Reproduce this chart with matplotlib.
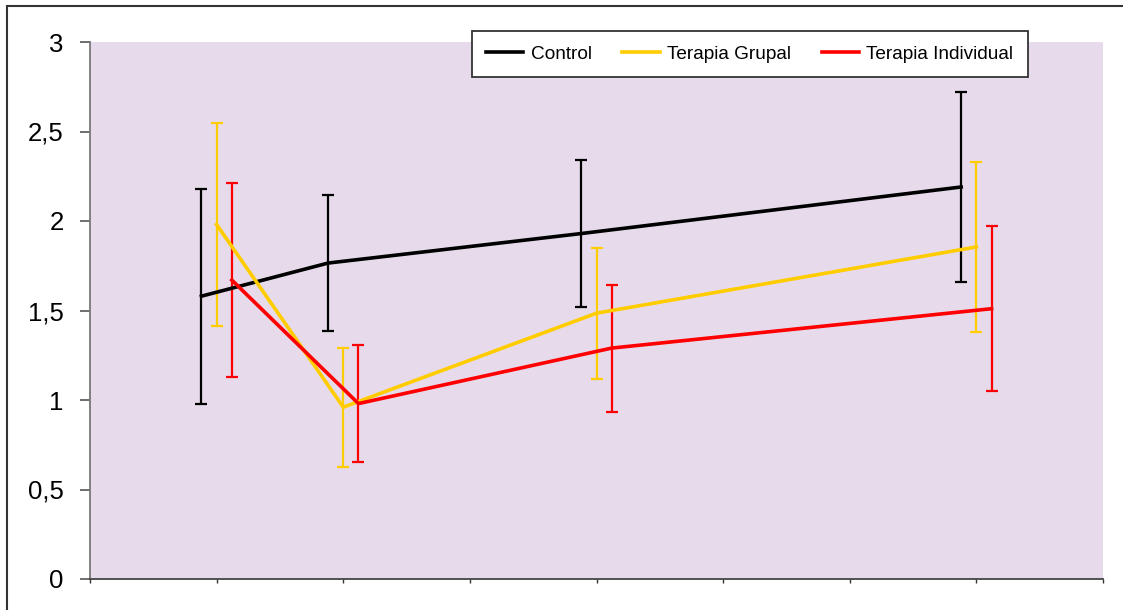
import matplotlib
matplotlib.use("Agg")
import matplotlib.pyplot as plt
from matplotlib.patches import Rectangle
import numpy as np

plt.rcParams['font.family'] = ['Liberation Sans', 'DejaVu Sans']

# data
time_points = [1, 2, 4, 7]
series_names = ["Control", "Terapia Grupal", "Terapia Individual"]
control_mean = [1.58, 1.765, 1.93, 2.19]
control_err = [0.60, 0.38, 0.41, 0.53]
grupal_mean = [1.98, 0.96, 1.485, 1.855]
grupal_err = [0.567, 0.333, 0.366, 0.475]
individual_mean = [1.67, 0.98, 1.29, 1.51]
individual_err = [0.54, 0.326, 0.355, 0.46]
y_ticks = [0, 0.5, 1, 1.5, 2, 2.5, 3]
y_tick_labels = ["0", "0,5", "1", "1,5", "2", "2,5", "3"]

colors = ["#000000", "#FFCC00", "#FF0000"]
offsets = [-0.12, 0.0, 0.12]

fig = plt.figure(figsize=(11.23, 6.10), dpi=100)
W, H = 1123, 610
ax = fig.add_axes([90 / W, 1 - 579 / H, (1103 - 90) / W, (579 - 42) / H])
ax.set_facecolor("#E7DBEB")

means = [control_mean, grupal_mean, individual_mean]
errs = [control_err, grupal_err, individual_err]
handles = []
for name, m, e, c, off in zip(series_names, means, errs, colors, offsets):
    x = np.array(time_points, dtype=float) + off
    ax.errorbar(x, m, yerr=e, fmt='none', ecolor=c, elinewidth=1.6,
                capsize=4.5, capthick=1.6, zorder=2)
    h, = ax.plot(x, m, color=c, lw=2.6, zorder=3, solid_joinstyle='miter')
    handles.append(h)

ax.set_xlim(0, 8)
ax.set_ylim(0, 3)
ax.set_xticks(range(0, 9))
ax.set_xticklabels([""] * 9)
ax.set_yticks(y_ticks)
ax.set_yticklabels(y_tick_labels, fontsize=18.5)
ax.tick_params(axis='y', direction='out', length=7, width=1.2, color='#555555', pad=12)
ax.tick_params(axis='x', direction='out', length=3, width=1.0, color='#333333')

for s in ['top', 'right']:
    ax.spines[s].set_visible(False)
ax.spines['left'].set_color('#777777')
ax.spines['left'].set_linewidth(1.3)
ax.spines['bottom'].set_color('#444444')
ax.spines['bottom'].set_linewidth(1.3)

leg = fig.legend(handles, series_names, ncol=3, loc='upper left',
                 bbox_to_anchor=(472 / W, 1 - 31 / H), bbox_transform=fig.transFigure,
                 borderaxespad=0, fontsize=13.7, frameon=True, fancybox=False,
                 handlelength=1.95, handletextpad=0.4, columnspacing=1.6,
                 borderpad=0.75)
leg.get_frame().set_edgecolor('#333333')
leg.get_frame().set_linewidth(1.3)
leg.get_frame().set_facecolor('white')
leg.get_frame().set_alpha(1)

# outer frame (top and left visible)
fig.patches.append(Rectangle((7 / W, -0.1), 1.2, 1 - 6 / H + 0.1,
                             transform=fig.transFigure, fill=False,
                             edgecolor='#333333', linewidth=1.5))

fig.savefig("out.png", dpi=100)
